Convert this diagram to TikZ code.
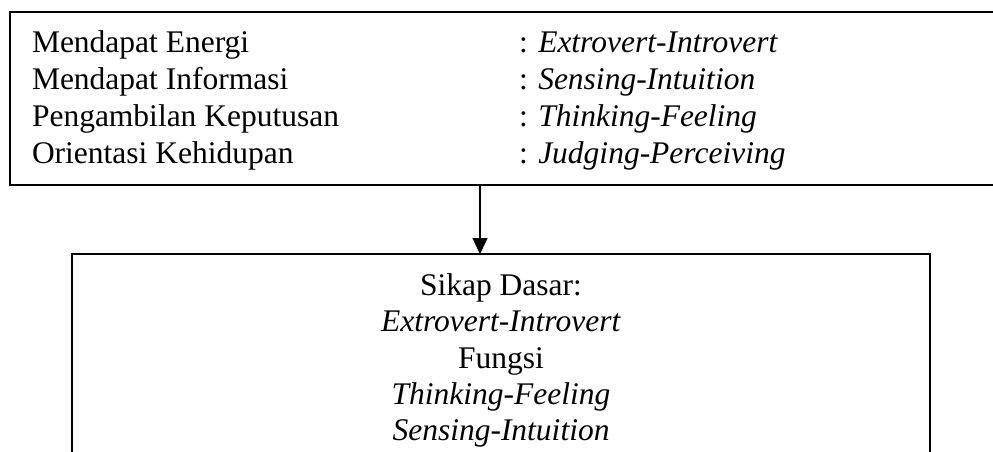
\documentclass[tikz,border=0pt]{standalone}
\usepackage{fontspec}
\setmainfont{Liberation Serif}
\usetikzlibrary{arrows.meta}
\tikzset{
  frame/.style={draw=black, line width=1.5pt, inner sep=0pt, outer sep=0pt, anchor=north west},
  txt/.style={inner sep=0pt, outer sep=0pt, font=\fontsize{31.5}{37}\selectfont},
  lefttxt/.style={txt, anchor=base west},
  midtxt/.style={txt, anchor=base},
  arr/.style={draw=black, line width=1.5pt, -{Triangle[width=15pt,length=16pt]}}
}
\begin{document}
\begin{tikzpicture}[x=1pt,y=-1pt]
\useasboundingbox (0,0) rectangle (993,451);
\node[frame, minimum width=1000pt, minimum height=173pt] (topbox) at (10,12) {};
\node[lefttxt] (l1) at (32,52) {Mendapat Energi};
\node[lefttxt] (l2) at (32,89) {Mendapat Informasi};
\node[lefttxt] (l3) at (32,126) {Pengambilan Keputusan};
\node[lefttxt] (l4) at (32,163) {Orientasi Kehidupan};
\node[lefttxt] (r1) at (519,52) {: \textit{Extrovert-Introvert}};
\node[lefttxt] (r2) at (519,89) {: \textit{Sensing-Intuition}};
\node[lefttxt] (r3) at (519,126) {: \textit{Thinking-Feeling}};
\node[lefttxt] (r4) at (519,163) {: \textit{Judging-Perceiving}};
\node[frame, minimum width=858pt, minimum height=260pt] (botbox) at (72,254) {};
\node[midtxt] (b1) at (501,295) {Sikap Dasar:};
\node[midtxt] (b2) at (501,331) {\textit{Extrovert-Introvert}};
\node[midtxt] (b3) at (501,368) {Fungsi};
\node[midtxt] (b4) at (501,404) {\textit{Thinking-Feeling}};
\node[midtxt] (b5) at (501,440) {\textit{Sensing-Intuition}};
\coordinate (ax) at (480,0);
\draw[arr] (topbox.south -| ax) -- (botbox.north -| ax);
\end{tikzpicture}
\end{document}
